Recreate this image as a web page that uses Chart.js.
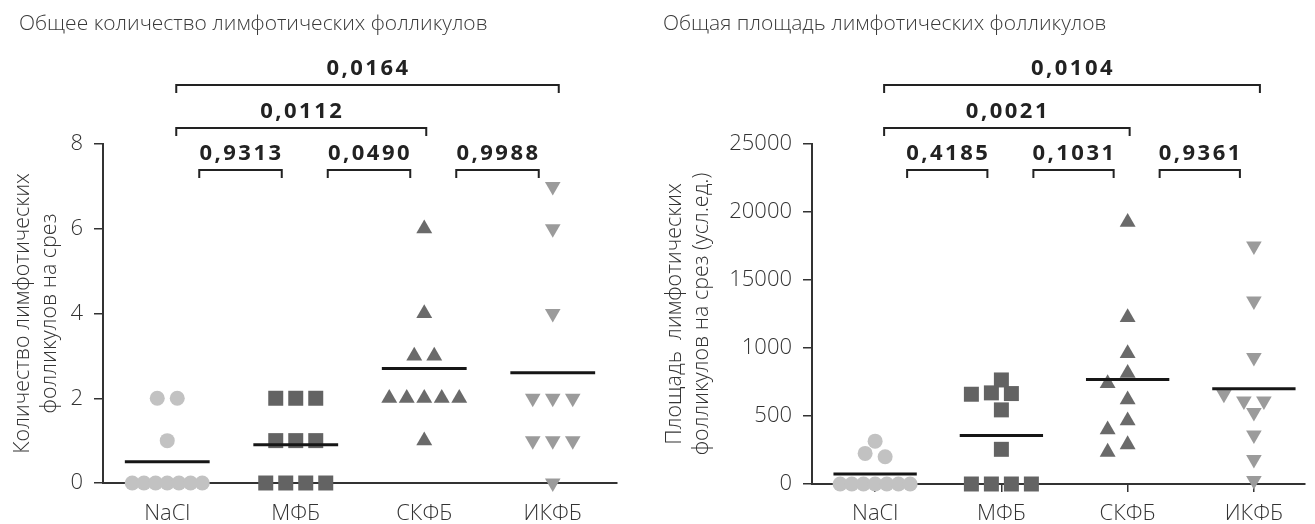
<!DOCTYPE html>
<html><head><meta charset="utf-8">
<script src="https://cdn.jsdelivr.net/npm/chart.js@4.4.1/dist/chart.umd.min.js"></script>
<style>
html,body{margin:0;padding:0;background:#fff;width:1315px;height:524px;overflow:hidden}
#c1{position:absolute;left:0;top:0}
#c2{position:absolute;left:655px;top:0}
</style></head><body>
<canvas id="c1" width="655" height="524"></canvas>
<canvas id="c2" width="660" height="524"></canvas>
<script>
// ---------- data ----------
const categories = ['NaCl', 'МФБ', 'СКФБ', 'ИКФБ'];

// left panel: number of follicles per section
const countNaCl = [0, 0, 0, 0, 0, 0, 0, 1, 2, 2];
const countMFB  = [0, 0, 0, 0, 1, 1, 1, 2, 2, 2];
const countSKFB = [1, 2, 2, 2, 2, 2, 3, 3, 4, 6];
const countIKFB = [0, 1, 1, 1, 2, 2, 2, 4, 6, 7];
const countTicks = ['0', '2', '4', '6', '8'];
const countP = ['0,0164', '0,0112', '0,9313', '0,0490', '0,9988'];

// right panel: follicle area per section
const areaNaCl = [0, 0, 0, 0, 0, 0, 0, 2000, 2250, 3150];
const areaMFB  = [0, 0, 0, 0, 2550, 5450, 6600, 6650, 6700, 7650];
const areaSKFB = [2350, 2900, 4000, 4650, 6200, 7400, 8150, 9600, 12250, 19250];
const areaIKFB = [250, 1800, 3600, 5250, 6100, 6100, 6600, 9300, 13450, 17500];
const areaTicks = ['0', '500', '1000', '15000', '20000', '25000'];
const areaP = ['0,0104', '0,0021', '0,4185', '0,1031', '0,9361'];

// compared group pairs (same order as p-values)
const comparisons = [[0, 3], [0, 2], [0, 1], [1, 2], [2, 3]];

// ---------- styles ----------
const FONT = '"Open Sans", "Noto Sans", sans-serif';
const groupStyle = [
  {style: 'circle',   rot: 0,   r: 7.5,  color: '#c2c2c2'},
  {style: 'rect',     rot: 0,   r: 10.6, color: '#636363'},
  {style: 'triangle', rot: 0,   r: 9.2,  color: '#6a6a6a'},
  {style: 'triangle', rot: 180, r: 9.0,  color: '#9b9b9b'}
];
Chart.defaults.font.family = FONT;
Chart.defaults.color = '#333';

function makeDatasets(groups) {
  const ds = [];
  groups.forEach((vals, i) => {
    const mean = vals.reduce((a, b) => a + b, 0) / vals.length;
    ds.push({
      type: 'line', data: [{x: i - 0.33, y: mean}, {x: i + 0.33, y: mean}],
      borderColor: '#161616', borderWidth: 3, pointRadius: 0, order: 0, clip: false
    });
    const g = groupStyle[i];
    ds.push({
      type: 'scatter', group: i, data: vals.map(v => ({x: i, y: v})),
      pointStyle: g.style, pointRotation: g.rot, pointRadius: g.r, pointHoverRadius: g.r,
      pointBackgroundColor: g.color, pointBorderWidth: 0, order: 1, clip: false
    });
  });
  return ds;
}

// spread points horizontally so they do not overlap
function arrange(chart) {
  const xs = chart.scales.x, ys = chart.scales.y;
  const unit = xs.getPixelForValue(1) - xs.getPixelForValue(0);
  chart.data.datasets.forEach(ds => {
    if (ds.type !== 'scatter') return;
    const pts = ds.data.map((p, k) => ({k, v: p.y, py: ys.getPixelForValue(p.y), off: 0}));
    const rows = new Map();
    pts.forEach(p => { if (!rows.has(p.v)) rows.set(p.v, []); rows.get(p.v).push(p); });
    const placed = [], singles = [];
    rows.forEach(r => {
      if (r.length > 1) {
        const s = Math.min(20, 70 / (r.length - 1));
        r.forEach((p, j) => { p.off = (j - (r.length - 1) / 2) * s; placed.push(p); });
      } else singles.push(r[0]);
    });
    singles.sort((a, b) => b.v - a.v);
    singles.forEach(p => {
      for (let m = 0; m < 30; m++) {
        const cand = m === 0 ? 0 : (m % 2 ? -1 : 1) * Math.ceil(m / 2) * 10;
        if (placed.every(q => Math.hypot(q.off - cand, q.py - p.py) >= 15)) { p.off = cand; break; }
      }
      placed.push(p);
    });
    pts.forEach(p => { ds.data[p.k].x = ds.group + p.off / unit; });
  });
  chart.update('none');
}

const annot = {
  id: 'annot',
  afterDraw(chart, args, opts) {
    const ctx = chart.ctx, top = chart.chartArea.top, xs = chart.scales.x;
    const px = v => xs.getPixelForValue(v);
    ctx.save();
    ctx.font = '300 21px ' + FONT;
    ctx.fillStyle = '#3a3a3a';
    ctx.textAlign = 'left';
    ctx.textBaseline = 'middle';
    ctx.fillText(opts.title, opts.titleX, 24);
    comparisons.forEach(([i, j], n) => {
      const span = j - i;
      let x1, x2, y;
      if (span === 1) { x1 = px(i) + 32; x2 = px(j) - 14; y = top + 26; }
      else if (span === 2) { x1 = px(i) + 9; x2 = px(j) + 2; y = top - 16; }
      else { x1 = px(i) + 9; x2 = px(j) + 6; y = top - 59; }
      ctx.strokeStyle = '#222';
      ctx.lineWidth = 2;
      ctx.beginPath();
      ctx.moveTo(x1, y + 8); ctx.lineTo(x1, y); ctx.lineTo(x2, y); ctx.lineTo(x2, y + 8);
      ctx.stroke();
      ctx.font = 'bold 22px ' + FONT;
      ctx.letterSpacing = '2.5px';
      ctx.textAlign = 'center';
      ctx.fillStyle = '#222';
      ctx.fillText(opts.labels[n], (x1 + x2) / 2 + 1, y - 16);
      ctx.letterSpacing = '0px';
    });
    ctx.restore();
  }
};

function makeChart(id, groups, cfg) {
  const chart = new Chart(document.getElementById(id), {
    data: {datasets: makeDatasets(groups)},
    options: {
      responsive: false, animation: false, devicePixelRatio: 1, events: [],
      layout: {padding: {top: 144, right: cfg.padRight, bottom: 0, left: 0}},
      plugins: {
        legend: {display: false}, tooltip: {enabled: false},
        annot: {title: cfg.title, titleX: cfg.titleX, labels: cfg.pvals}
      },
      scales: {
        x: {
          type: 'linear', min: -0.5, max: cfg.xMax,
          afterBuildTicks: ax => { ax.ticks = categories.map((c, i) => ({value: i})); },
          afterFit: ax => { ax.height = cfg.xHeight; },
          grid: {display: cfg.xTicks, drawOnChartArea: false, drawTicks: cfg.xTicks,
                 tickLength: cfg.xTicks ? 8 : 0, color: '#333', lineWidth: 1.5},
          border: {display: true, color: '#333', width: 2},
          ticks: {
            callback: v => categories[v], font: {size: 22, weight: 300}, color: '#333',
            padding: cfg.xPad, maxRotation: 0, autoSkip: false
          }
        },
        y: {
          type: 'linear', min: 0, max: cfg.yMax,
          afterFit: ax => { ax.width = cfg.yWidth; },
          grid: {display: true, drawOnChartArea: false, drawTicks: true, tickLength: 9, color: '#333', lineWidth: 1.5},
          border: {display: true, color: '#333', width: 2},
          ticks: {
            stepSize: cfg.yStep, callback: (v, idx) => cfg.yLabels[idx],
            font: {size: 22, weight: 300}, color: '#333', padding: 11
          },
          title: {
            display: true, text: cfg.yTitle, color: '#333',
            font: {size: 21.5, weight: 300, lineHeight: 1.27}, padding: {top: cfg.yTitlePad, bottom: 0}
          }
        }
      }
    },
    plugins: [annot]
  });
  arrange(chart);
  return chart;
}

makeChart('c1', [countNaCl, countMFB, countSKFB, countIKFB], {
  title: 'Общее количество лимфотических фолликулов', titleX: 19, pvals: countP,
  padRight: 38, xMax: 3.5, xHeight: 41, xTicks: false, xPad: 18,
  yMax: 8, yStep: 2, yLabels: countTicks, yWidth: 103, yTitlePad: 9,
  yTitle: ['Количество лимфотических', 'фолликулов на срез']
});
makeChart('c2', [areaNaCl, areaMFB, areaSKFB, areaIKFB], {
  title: 'Общая площадь лимфотических фолликулов', titleX: 8, pvals: areaP,
  padRight: 0, xMax: 3.4, xHeight: 40, xTicks: true, xPad: 9,
  yMax: 25000, yStep: 5000, yLabels: areaTicks, yWidth: 157, yTitlePad: 6,
  yTitle: ['Площадь  лимфотических', 'фолликулов на срез (усл.ед.)']
});
</script>
</body></html>
